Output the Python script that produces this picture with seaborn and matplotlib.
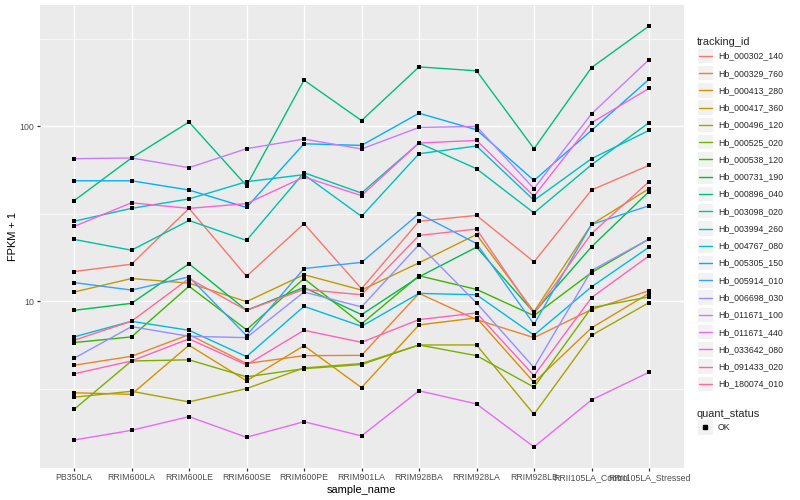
import matplotlib
matplotlib.use("Agg")
import numpy as np
import pandas as pd
import seaborn as sns
import matplotlib.pyplot as plt
from matplotlib.legend_handler import HandlerBase
from matplotlib.patches import Rectangle
from matplotlib.lines import Line2D
import matplotlib.ticker as ticker

# samples on the x axis
samples = ["PB350LA", "RRIM600LA", "RRIM600LE", "RRIM600SE", "RRIM600PE",
           "RRIM901LA", "RRIM928BA", "RRIM928LA", "RRIM928LB",
           "RRII105LA_Control", "RRII105LA_Stressed"]

tracking_ids = ["Hb_000302_140", "Hb_000329_760", "Hb_000413_280", "Hb_000417_360",
                "Hb_000496_120", "Hb_000525_020", "Hb_000538_120", "Hb_000731_190",
                "Hb_000896_040", "Hb_003098_020", "Hb_003994_260", "Hb_004767_080",
                "Hb_005305_150", "Hb_005914_010", "Hb_006698_030", "Hb_011671_100",
                "Hb_011671_440", "Hb_033642_080", "Hb_091433_020", "Hb_180074_010"]

# FPKM + 1 per gene, one value per sample
hb_000302_140 = [14.8, 16.3, 34.0, 13.9, 27.8, 11.8, 28.7, 31.0, 16.8, 43.3, 59.9]
hb_000329_760 = [4.31, 4.85, 6.45, 4.41, 4.89, 4.91, 11.1, 7.86, 6.20, 8.97, 11.5]
hb_000413_280 = [3.00, 2.94, 5.61, 3.51, 5.58, 3.21, 7.33, 8.04, 3.44, 7.05, 11.1]
hb_000417_360 = [11.3, 13.5, 12.7, 9.96, 14.2, 11.6, 16.6, 24.1, 8.73, 27.5, 44.1]
hb_000496_120 = [2.83, 3.06, 2.66, 3.17, 4.16, 4.41, 5.63, 5.63, 2.26, 6.39, 9.83]
hb_000525_020 = [2.41, 4.56, 4.63, 3.70, 4.12, 4.35, 5.63, 4.89, 3.23, 9.20, 10.6]
hb_000538_120 = [5.81, 6.26, 12.2, 6.87, 13.5, 7.43, 14.0, 11.7, 8.28, 14.6, 22.7]
hb_000731_190 = [8.88, 9.74, 16.4, 8.88, 12.0, 8.39, 13.8, 20.4, 8.62, 20.5, 42.4]
hb_000896_040 = [37.6, 66.0, 106, 45.8, 184, 108, 219, 208, 74.6, 217, 375]
hb_003098_020 = [22.6, 19.6, 29.0, 22.3, 54.4, 41.6, 80.4, 57.3, 32.0, 60.4, 105]
hb_003994_260 = [28.7, 34.0, 38.5, 48.3, 53.0, 30.6, 69.8, 77.3, 37.8, 65.4, 94.9]
hb_004767_080 = [6.26, 7.69, 6.83, 4.83, 9.36, 7.20, 11.1, 10.9, 6.41, 12.1, 20.4]
hb_005305_150 = [48.9, 48.9, 43.3, 34.4, 79.6, 77.9, 119, 95.7, 49.1, 94.9, 186]
hb_005914_010 = [12.8, 11.6, 13.8, 6.37, 15.4, 16.7, 31.7, 21.4, 7.39, 27.5, 35.2]
hb_006698_030 = [4.72, 7.17, 6.31, 6.20, 11.3, 9.29, 21.1, 9.79, 4.18, 15.0, 22.7]
hb_011671_100 = [65.4, 66.0, 58.1, 74.6, 84.7, 74.3, 98.7, 100, 44.1, 118, 241]
hb_011671_440 = [1.61, 1.83, 2.19, 1.67, 2.05, 1.70, 3.08, 2.59, 1.47, 2.73, 3.93]
hb_033642_080 = [26.8, 36.6, 34.0, 36.2, 51.4, 40.2, 80.4, 83.2, 39.9, 105, 165]
hb_091433_020 = [3.85, 4.56, 6.10, 4.33, 6.83, 5.83, 7.86, 8.58, 3.76, 10.5, 18.2]
hb_180074_010 = [5.99, 7.69, 13.5, 8.88, 11.7, 10.9, 23.8, 25.9, 8.50, 24.4, 48.3]

series = [hb_000302_140, hb_000329_760, hb_000413_280, hb_000417_360, hb_000496_120,
          hb_000525_020, hb_000538_120, hb_000731_190, hb_000896_040, hb_003098_020,
          hb_003994_260, hb_004767_080, hb_005305_150, hb_005914_010, hb_006698_030,
          hb_011671_100, hb_011671_440, hb_033642_080, hb_091433_020, hb_180074_010]

# ggplot default hue palette, 20 levels
colors = ["#F8766D", "#EA8331", "#D89000", "#C09B00", "#A3A500", "#7CAE00", "#39B600",
          "#00BB4E", "#00BF7D", "#00C1A3", "#00BFC4", "#00BAE0", "#00B0F6", "#35A2FF",
          "#9590FF", "#C77CFF", "#E76BF3", "#FA62DB", "#FF62BC", "#FF6C91"]

df = pd.DataFrame([(tid, s, v) for tid, vals in zip(tracking_ids, series)
                   for s, v in zip(samples, vals)],
                  columns=["tracking_id", "sample_name", "fpkm"])
df["quant_status"] = "OK"


class KeyHandler(HandlerBase):
    # grey key box like ggplot, with a line or a point on top
    def create_artists(self, legend, orig_handle, xdescent, ydescent,
                       width, height, fontsize, trans):
        x0, y0 = -xdescent, -ydescent
        box = Rectangle((x0 + 1.0, y0 + 1.0), width - 2.0, height - 2.0,
                        facecolor="#F2F2F2", edgecolor="none", transform=trans)
        ym = y0 + height / 2
        if orig_handle.get_marker() not in (None, "None", "", " "):
            mark = Line2D([x0 + width / 2], [ym], marker=orig_handle.get_marker(),
                          markersize=orig_handle.get_markersize(),
                          color=orig_handle.get_color(), linestyle="none",
                          transform=trans)
        else:
            mark = Line2D([x0 + width * 0.1, x0 + width * 0.9], [ym, ym],
                          color=orig_handle.get_color(),
                          lw=orig_handle.get_linewidth(), transform=trans)
        return [box, mark]


sns.set_theme(style="darkgrid", rc={"axes.facecolor": "#EBEBEB",
                                    "grid.color": "white",
                                    "axes.edgecolor": "none"})
plt.rcParams["font.family"] = ["Liberation Sans", "DejaVu Sans"]

fig = plt.figure(figsize=(8, 5), dpi=100)
ax = fig.add_axes([39.5 / 800, 32 / 500, 644 / 800, 463 / 500])

sns.lineplot(data=df, x="sample_name", y="fpkm", hue="tracking_id",
             hue_order=tracking_ids, palette=colors, sort=False, errorbar=None,
             linewidth=1.0, legend=False, ax=ax)
sns.scatterplot(data=df, x="sample_name", y="fpkm", color="black", s=6, marker="s",
                linewidth=0, legend=False, ax=ax, zorder=3)

ax.set_yscale("log")
lo, hi = np.log10(df["fpkm"].min()), np.log10(df["fpkm"].max())
pad = (hi - lo) * 0.05
ax.set_ylim(10 ** (lo - pad), 10 ** (hi + pad))
ax.set_xlim(-0.6, len(samples) - 0.4)

ax.set_yticks([10, 100], labels=["10", "100"])
ax.set_yticks([10 ** 0.5, 10 ** 1.5, 10 ** 2.5], minor=True)
ax.yaxis.set_minor_formatter(ticker.NullFormatter())
ax.xaxis.set_minor_locator(ticker.NullLocator())
ax.grid(True, which="major", color="white", lw=1.0)
ax.grid(True, which="minor", axis="y", color="white", lw=0.5)
ax.set_axisbelow(True)

ax.tick_params(axis="both", which="major", length=2.0, width=0.9, color="#333333",
               labelsize=6.34, labelcolor="#4D4D4D", pad=1.6, bottom=True, left=True)
ax.tick_params(axis="both", which="minor", length=0)
for sp in ax.spines.values():
    sp.set_visible(False)

ax.set_xlabel("sample_name", fontsize=7.92, labelpad=2.5, color="black")
ax.set_ylabel("FPKM + 1", fontsize=7.92, labelpad=1.0, color="black")

key_kw = dict(loc="upper left", frameon=False, fontsize=6.34, title_fontsize=7.92,
              handlelength=1.96, handleheight=2.64, labelspacing=0,
              handletextpad=0.45, borderpad=0, borderaxespad=0, alignment="left",
              handler_map={Line2D: KeyHandler()})

h1 = [Line2D([], [], color=c, lw=1.0) for c in colors]
fig.legend(h1, tracking_ids, title="tracking_id", bbox_to_anchor=(0.871, 0.9256), **key_kw)
h2 = [Line2D([], [], marker="s", markersize=2.2, color="black", linestyle="none")]
fig.legend(h2, ["OK"], title="quant_status", bbox_to_anchor=(0.871, 0.1824), **key_kw)

fig.savefig("out.png", dpi=100)
